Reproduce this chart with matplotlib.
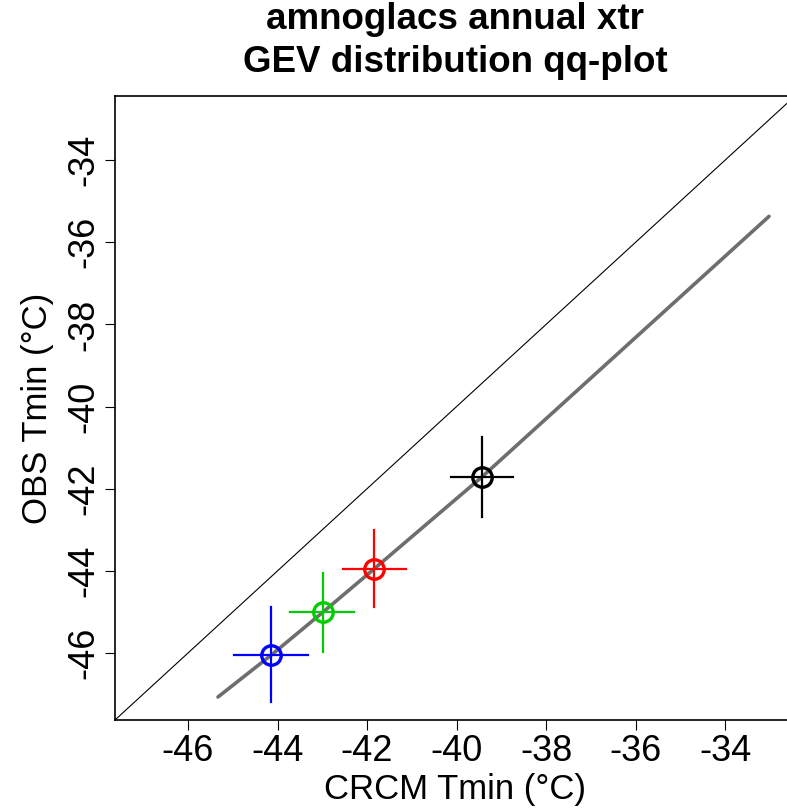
import matplotlib
matplotlib.use("Agg")
import matplotlib.pyplot as plt

# GEV quantiles: model (CRCM) vs observations
crcm = [-44.14, -42.98, -41.84, -39.43]
obs = [-46.05, -45.00, -43.95, -41.71]
crcm_lo = [-44.97, -43.73, -42.53, -40.13]
crcm_hi = [-43.32, -42.28, -41.12, -38.75]
obs_lo = [-47.20, -45.98, -44.88, -42.68]
obs_hi = [-44.88, -44.05, -43.00, -40.73]
colors = ["blue", "#00cc00", "red", "black"]

# fitted curve
fit_x = [-45.33, -44.14, -42.98, -41.84, -39.43, -33.02]
fit_y = [-47.07, -46.05, -45.00, -43.95, -41.71, -35.37]

xlim = (-47.63, -32.44)
ylim = (-47.63, -32.44)
ticks = [-46, -44, -42, -40, -38, -36, -34]

plt.rcParams["font.family"] = ["Liberation Sans", "DejaVu Sans"]

fig = plt.figure(figsize=(7.87, 8.09), dpi=100)
ax = fig.add_axes([115 / 787, 89 / 809, 680 / 787, 624 / 809])

ax.plot(xlim, ylim, color="black", lw=0.8)
ax.plot(fit_x, fit_y, color="#6e6e6e", lw=2.6, solid_capstyle="round")

for i in range(len(crcm)):
    c = colors[i]
    ax.plot([crcm_lo[i], crcm_hi[i]], [obs[i], obs[i]], color=c, lw=1.6)
    ax.plot([crcm[i], crcm[i]], [obs_lo[i], obs_hi[i]], color=c, lw=1.6)
    ax.plot(crcm[i], obs[i], "o", mfc="none", mec=c, mew=2.4, ms=14)

ax.set_xlim(xlim)
ax.set_ylim(ylim)
ax.set_xticks(ticks)
ax.set_yticks(ticks)
ax.set_xticklabels([str(t) for t in ticks])
ax.set_yticklabels([str(t) for t in ticks], rotation=90, va="center")
ax.tick_params(labelsize=26, length=7, width=0.8, pad=3)
for s in ax.spines.values():
    s.set_linewidth(1.2)

ax.set_xlabel("CRCM Tmin (°C)", fontsize=25, labelpad=3)
ax.set_ylabel("OBS Tmin (°C)", fontsize=25, labelpad=9)
fig.text(455 / 787, 1 - 41 / 809, "amnoglacs annual xtr\nGEV distribution qq-plot",
         ha="center", va="center", fontsize=26.5, fontweight="bold", linespacing=1.3)

fig.savefig("out.png", dpi=100)
